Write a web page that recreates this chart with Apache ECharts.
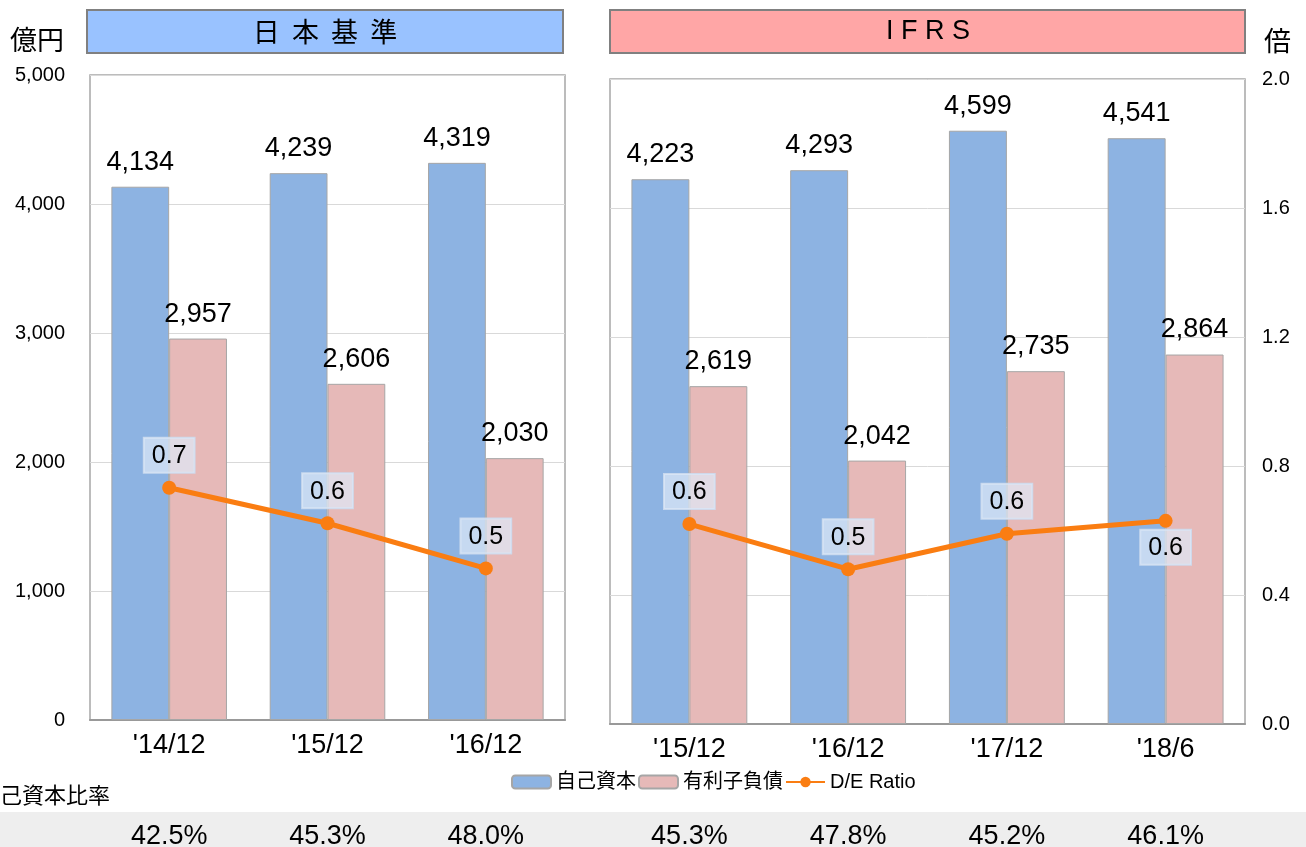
<!DOCTYPE html>
<html>
<head>
<meta charset="utf-8">
<script src="https://cdn.jsdelivr.net/npm/echarts@6/dist/echarts.min.js"></script>
<style>
  html, body { margin: 0; padding: 0; background: #fff; }
  #main { width: 1306px; height: 847px; }
</style>
</head>
<body>
<div id="main"></div>
<script>
// 日本基準
var jgaapCats = ["'14/12", "'15/12", "'16/12"];
var jgaapEquity = [4134, 4239, 4319];
var jgaapDebt = [2957, 2606, 2030];
var jgaapDE = [0.72, 0.61, 0.47];
var jgaapRatio = ['42.5%', '45.3%', '48.0%'];

// IFRS
var ifrsCats = ["'15/12", "'16/12", "'17/12", "'18/6"];
var ifrsEquity = [4223, 4293, 4599, 4541];
var ifrsDebt = [2619, 2042, 2735, 2864];
var ifrsDE = [0.62, 0.48, 0.59, 0.63];
var ifrsRatio = ['45.3%', '47.8%', '45.2%', '46.1%'];

var FONT = "'Liberation Sans', Arial, 'Noto Sans CJK JP', sans-serif";
var CJK = "'Noto Sans CJK JP', sans-serif";
var blue = '#8DB3E2', pink = '#E6B9B8', orange = '#FA7D12';

var myChart = echarts.init(document.getElementById('main'));

function barLabel() {
	return {
		show: true, position: 'top', distance: 11,
		fontSize: 27, color: '#000', fontFamily: FONT,
		formatter: function(p) { return p.value.toLocaleString('en-US'); }
	};
}
function deLabel(pos) {
	return {
		show: true, position: pos, distance: 8,
		fontSize: 25, color: '#000', fontFamily: FONT,
		backgroundColor: 'rgba(222,233,248,0.7)',
		borderColor: 'rgba(205,220,240,0.9)', borderWidth: 1,
		padding: [6, 8, 4, 8],
		formatter: function(p) { return p.value.toFixed(1); }
	};
}
function catAxis(grid, data) {
	return {
		type: 'category', gridIndex: grid, data: data,
		axisTick: { show: false },
		axisLine: { lineStyle: { color: '#999', width: 2 } },
		axisLabel: { fontSize: 27, color: '#000', fontFamily: FONT, margin: 12 }
	};
}
function ratioAxis(grid, data, offset) {
	return {
		type: 'category', gridIndex: grid, data: data, position: 'bottom', offset: offset,
		axisTick: { show: false }, axisLine: { show: false },
		axisLabel: { fontSize: 27, color: '#000', fontFamily: FONT, margin: 8 }
	};
}

var option = {
	animation: false,
	textStyle: { fontFamily: FONT },
	grid: [
		{ left: 90, top: 75, width: 475, height: 645, outerBoundsMode: 'none', containLabel: false,
			show: true, borderColor: '#A6A6A6', borderWidth: 1.5, backgroundColor: '#fff' },
		{ left: 610, top: 79, width: 635, height: 645, outerBoundsMode: 'none', containLabel: false,
			show: true, borderColor: '#A6A6A6', borderWidth: 1.5, backgroundColor: '#fff' }
	],
	legend: {
		left: 506, top: 767,
		itemWidth: 39, itemHeight: 13, itemGap: 2,
		textStyle: { fontSize: 20, color: '#000', fontFamily: FONT },
		data: ['自己資本', '有利子負債', 'D/E Ratio']
	},
	xAxis: [
		catAxis(0, jgaapCats),
		catAxis(1, ifrsCats),
		ratioAxis(0, jgaapRatio, 95),
		ratioAxis(1, ifrsRatio, 91)
	],
	yAxis: [
		{
			type: 'value', gridIndex: 0, min: 0, max: 5000, interval: 1000,
			axisLine: { show: false }, axisTick: { show: false },
			splitLine: { lineStyle: { color: '#D9D9D9', width: 1 } },
			axisLabel: { fontSize: 20, color: '#000', margin: 25,
				formatter: function(v) { return v.toLocaleString('en-US'); } }
		},
		{ type: 'value', gridIndex: 0, min: 0, max: 2, interval: 0.4, show: false, splitLine: { show: false } },
		{
			type: 'value', gridIndex: 1, min: 0, max: 5000, interval: 1000,
			axisLine: { show: false }, axisTick: { show: false }, axisLabel: { show: false },
			splitLine: { lineStyle: { color: '#D9D9D9', width: 1 } }
		},
		{
			type: 'value', gridIndex: 1, min: 0, max: 2, interval: 0.4, position: 'right',
			axisLine: { show: false }, axisTick: { show: false }, splitLine: { show: false },
			axisLabel: { fontSize: 20, color: '#000', margin: 17,
				formatter: function(v) { return v.toFixed(1); } }
		}
	],
	series: [
		{ name: '自己資本', type: 'bar', xAxisIndex: 0, yAxisIndex: 0, data: jgaapEquity,
			barGap: '0%', barCategoryGap: '27%',
			itemStyle: { color: blue, borderColor: '#A6A6A6', borderWidth: 1 }, label: barLabel() },
		{ name: '有利子負債', type: 'bar', xAxisIndex: 0, yAxisIndex: 0, data: jgaapDebt,
			barGap: '0%', barCategoryGap: '27%',
			itemStyle: { color: pink, borderColor: '#A6A6A6', borderWidth: 1 }, label: barLabel() },
		{ name: 'D/E Ratio', type: 'line', xAxisIndex: 0, yAxisIndex: 1, data: jgaapDE,
			symbol: 'circle', symbolSize: 14, z: 5,
			lineStyle: { color: orange, width: 5 }, itemStyle: { color: orange },
			label: deLabel('top') },
		{ name: '自己資本', type: 'bar', xAxisIndex: 1, yAxisIndex: 2, data: ifrsEquity,
			barGap: '0%', barCategoryGap: '27%',
			itemStyle: { color: blue, borderColor: '#A6A6A6', borderWidth: 1 }, label: barLabel() },
		{ name: '有利子負債', type: 'bar', xAxisIndex: 1, yAxisIndex: 2, data: ifrsDebt,
			barGap: '0%', barCategoryGap: '27%',
			itemStyle: { color: pink, borderColor: '#A6A6A6', borderWidth: 1 }, label: barLabel() },
		{ name: 'D/E Ratio', type: 'line', xAxisIndex: 1, yAxisIndex: 3, z: 5,
			data: [
				ifrsDE[0], ifrsDE[1], ifrsDE[2],
				{ value: ifrsDE[3], label: { position: 'bottom', distance: 2 } }
			],
			symbol: 'circle', symbolSize: 14,
			lineStyle: { color: orange, width: 5 }, itemStyle: { color: orange },
			label: deLabel('top') }
	],
	graphic: [
		{ type: 'rect', z: -10, shape: { x: 0, y: 812, width: 1306, height: 40 }, style: { fill: '#EEEEEE' } },
		{ type: 'rect', shape: { x: 87, y: 10, width: 476, height: 43 }, style: { fill: '#99C2FF', stroke: '#808080', lineWidth: 2 } },
		{ type: 'text', x: 325, y: 32, style: { text: '日  本  基  準', fontSize: 27, fill: '#000', align: 'center', verticalAlign: 'middle', fontFamily: CJK } },
		{ type: 'rect', shape: { x: 610, y: 10, width: 635, height: 43 }, style: { fill: '#FFA6A6', stroke: '#808080', lineWidth: 2 } },
		{ type: 'text', x: 928, y: 32, style: { text: 'I F R S', fontSize: 27, fill: '#000', align: 'center', verticalAlign: 'middle', fontFamily: FONT } },
		{ type: 'text', x: 10, y: 26, style: { text: '億円', fontSize: 27, fill: '#000', fontFamily: CJK } },
		{ type: 'text', x: 1264, y: 27, style: { text: '倍', fontSize: 27, fill: '#000', fontFamily: CJK } },
		{ type: 'text', x: 0, y: 784, style: { text: '己資本比率', fontSize: 22, fill: '#000', fontFamily: CJK } }
	]
};

myChart.setOption(option);
</script>
</body>
</html>
